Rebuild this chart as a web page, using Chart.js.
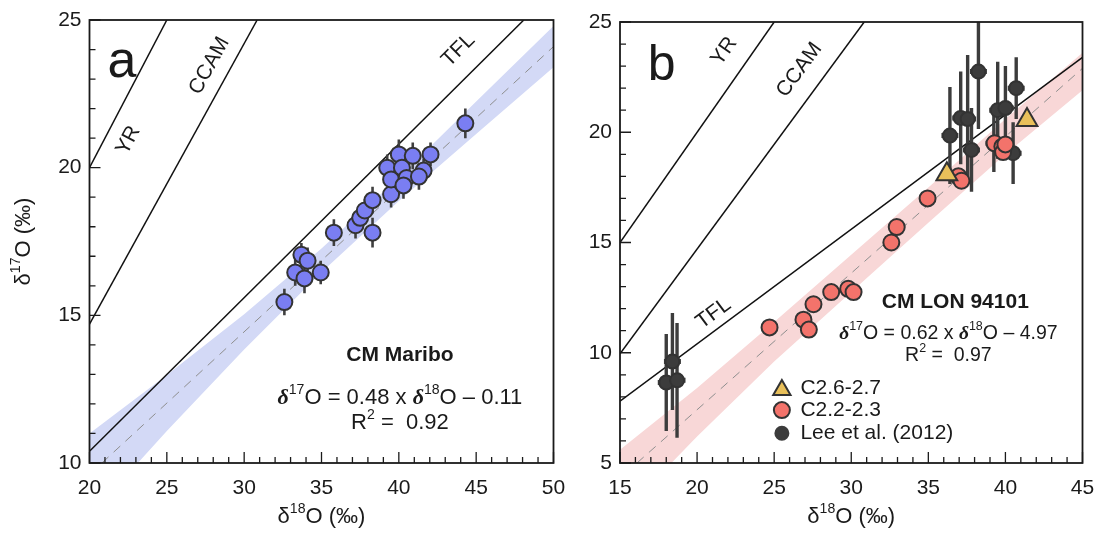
<!DOCTYPE html>
<html>
<head>
<meta charset="utf-8">
<script src="https://cdn.jsdelivr.net/npm/chart.js@4.4.1/dist/chart.umd.min.js"></script>
<style>
  html, body { margin: 0; padding: 0; background: #fff; }
  #wrap { position: relative; width: 1100px; height: 533px; }
  canvas { position: absolute; top: 0; }
</style>
</head>
<body>
<div id="wrap">
  <canvas id="chart-a" width="575" height="533" style="left:0"></canvas>
  <canvas id="chart-b" width="525" height="533" style="left:575px"></canvas>
</div>
<script>
/* Two δ17O vs δ18O panels (Maribo, LON 94101) with reference lines and fits. */

const SANS = '"Liberation Sans", Arial, sans-serif';
const SERIF = '"Liberation Serif", "Times New Roman", serif';
const INK = '#1a1a1a';

// ---- panel a : CM Maribo ----
const maribo18 = [32.6, 33.3, 33.7, 34.1, 33.9, 34.95, 35.8, 37.2, 37.5, 37.8, 38.3, 38.3,
  39.25, 39.5, 39.5, 40.0, 40.2, 40.5, 40.9, 41.6, 41.3, 42.05, 44.3, 40.3];
const maribo17 = [15.45, 16.45, 17.05, 16.85, 16.25, 16.45, 17.8, 18.05, 18.3, 18.55, 18.9, 17.8,
  20.0, 19.1, 19.6, 20.45, 20.0, 19.65, 20.4, 19.9, 19.7, 20.45, 21.5, 19.4];
const maribo17err = [0.45, 0.45, 0.4, 0.45, 0.5, 0.4, 0.45, 0.45, 0.4, 0.4, 0.45, 0.5,
  0.45, 0.45, 0.4, 0.5, 0.45, 0.45, 0.45, 0.4, 0.45, 0.4, 0.5, 0.45];

const yrA = { x: [20, 25], y: [20, 25] };
const ccamA = { x: [20, 30.84], y: [14.7, 25] };
const tflA = { x: [20, 48.08], y: [10.4, 25] };
const fitA = { x: [20.8, 50], y: [10, 24.1] };
const bandAx = [20, 25, 30, 35, 40, 45, 50];
const bandAup = [11.0, 12.98, 15.04, 17.26, 19.67, 22.24, 24.8];
const bandAlo = [8.2, 11.08, 13.84, 16.46, 18.87, 21.14, 23.4];

// ---- panel b : CM LON 94101 ----
const lon18 = [24.7, 26.9, 27.25, 27.55, 28.7, 29.8, 30.15, 32.6, 32.95, 34.95, 36.95, 37.15,
  39.3, 39.8, 39.85, 40.0];
const lon17 = [11.15, 11.5, 11.05, 12.2, 12.75, 12.9, 12.75, 15.0, 15.7, 17.0, 18.0, 17.8,
  19.5, 19.35, 19.1, 19.45];
const lon17err = [0.25, 0.2, 0.2, 0.2, 0.2, 0.25, 0.25, 0.2, 0.2, 0.2, 0.2, 0.25,
  0.2, 0.2, 0.2, 0.2];
const tri18 = [36.2, 41.4];
const tri17 = [18.1, 20.55];
const lee18 = [18.0, 18.7, 18.4, 36.4, 37.1, 37.55, 38.25, 37.8, 39.5, 40.0, 40.7, 40.5, 39.25];
const lee17 = [8.65, 8.75, 9.6, 19.85, 20.65, 20.6, 22.75, 19.2, 21.0, 21.1, 22.0, 19.05, 19.5];
const lee17err = [2.2, 2.6, 2.2, 2.2, 2.1, 2.9, 2.6, 1.9, 2.2, 1.9, 1.4, 1.4, 1.3];
const lee18err = [0.55, 0.55, 0.55, 0.55, 0.55, 0.55, 0.55, 0.55, 0.55, 0.55, 0.55, 0.55, 0.55];

const yrB = { x: [15, 25], y: [15, 25] };
const ccamB = { x: [15, 30.84], y: [9.95, 25] };
const tflB = { x: [15, 45], y: [7.8, 23.4] };
const fitB = { x: [16.1, 45], y: [5, 22.9] };
const bandBx = [15, 20, 25, 30, 35, 40, 45];
const bandBup = [5.6, 8.4, 11.4, 14.45, 17.5, 20.6, 23.6];
const bandBlo = [2.6, 6.2, 9.6, 12.75, 15.9, 19.0, 21.9];

const BLUE = '#7a7ef2';
const RED = '#f3736b';
const YELLOW = '#e9c05a';
const LEE = '#3c3c3c';
const EDGE = '#333333';

const pts = (xs, ys) => xs.map((x, i) => ({ x, y: ys[i] }));

function barsY(xs, ys, es) {
  const out = [];
  xs.forEach((x, i) => out.push({ x, y: ys[i] - es[i] }, { x, y: ys[i] + es[i] }, { x, y: null }));
  return out;
}
function barsX(xs, ys, es) {
  const out = [];
  xs.forEach((x, i) => out.push({ x: x - es[i], y: ys[i] }, { x: x + es[i], y: ys[i] }, { x, y: null }));
  return out;
}

function lineSet(ref, color, width, order, dash) {
  return {
    type: 'line', data: pts(ref.x, ref.y), borderColor: color, borderWidth: width,
    borderDash: dash || [], pointRadius: 0, fill: false, order,
  };
}
function bandSets(xs, up, lo, color) {
  return [
    { type: 'line', data: pts(xs, up), fill: '+1', backgroundColor: color,
      borderColor: 'rgba(0,0,0,0)', borderWidth: 0, pointRadius: 0, order: 30 },
    { type: 'line', data: pts(xs, lo), fill: false,
      borderColor: 'rgba(0,0,0,0)', borderWidth: 0, pointRadius: 0, order: 30 },
  ];
}
function barSet(data, color, width, order) {
  return { type: 'line', data, borderColor: color, borderWidth: width, pointRadius: 0,
    fill: false, spanGaps: false, order };
}
function markerSet(xs, ys, style, radius, fill, order) {
  return {
    type: 'scatter', data: pts(xs, ys), pointStyle: style, pointRadius: radius,
    backgroundColor: fill, borderColor: EDGE, borderWidth: 2, order,
  };
}

function fontStr(f) {
  return `${f.style || 'normal'} ${f.weight || 'normal'} ${f.size}px ${f.family || SANS}`;
}

// draws a run of text pieces (some superscript / other font) around (0,0)
function drawRich(ctx, parts, base, align) {
  const items = parts.map((p) => {
    const piece = typeof p === 'string' ? { t: p } : p;
    const f = Object.assign({}, base, piece.font || {});
    if (piece.sup) f.size = base.size * 0.64;
    ctx.font = fontStr(f);
    return { t: piece.t, f, sup: piece.sup, w: ctx.measureText(piece.t).width };
  });
  const total = items.reduce((s, it) => s + it.w, 0);
  let x = align === 'left' ? 0 : -total / 2;
  ctx.textBaseline = 'middle';
  ctx.textAlign = 'left';
  for (const it of items) {
    ctx.font = fontStr(it.f);
    ctx.fillText(it.t, x, it.sup ? -base.size * 0.36 : 0);
    x += it.w;
  }
}

// plugin factory: keeps its config in a closure so Chart.js option proxies don't touch it
function makeDeco(cfg) {
  return {
    id: 'deco',
    afterDatasetsDraw(chart) {
      const { ctx, chartArea: a, scales: { x, y } } = chart;
      ctx.save();
      ctx.strokeStyle = INK;
      ctx.lineWidth = 1.3;
      ctx.beginPath();
      for (let v = x.min; v <= x.max; v++) {
        const px = x.getPixelForValue(v);
        ctx.moveTo(px, a.bottom);
        ctx.lineTo(px, a.bottom - (v % 5 === 0 ? 11 : 6));
      }
      for (let v = y.min; v <= y.max; v++) {
        const py = y.getPixelForValue(v);
        ctx.moveTo(a.left, py);
        ctx.lineTo(a.left + (v % 5 === 0 ? 11 : 6), py);
      }
      ctx.stroke();
      ctx.lineWidth = 1.8;
      ctx.strokeRect(a.left, a.top, a.right - a.left, a.bottom - a.top);

      ctx.fillStyle = INK;
      for (const t of cfg.texts || []) {
        ctx.save();
        ctx.translate(x.getPixelForValue(t.x), y.getPixelForValue(t.y));
        if (t.along) {
          const dx = x.getPixelForValue(t.along.x[1]) - x.getPixelForValue(t.along.x[0]);
          const dy = y.getPixelForValue(t.along.y[1]) - y.getPixelForValue(t.along.y[0]);
          ctx.rotate(Math.atan2(dy, dx));
        }
        drawRich(ctx, t.parts, t.font, t.align);
        ctx.restore();
      }

      for (const item of cfg.legend || []) {
        const px = x.getPixelForValue(item.x);
        const py = y.getPixelForValue(item.y);
        ctx.beginPath();
        if (item.style === 'triangle') {
          for (let k = 0; k < 3; k++) {
            const ang = k * 2 * Math.PI / 3;
            const fx = px + Math.sin(ang) * item.r;
            const fy = py - Math.cos(ang) * item.r + item.r * 0.2;
            if (k === 0) ctx.moveTo(fx, fy); else ctx.lineTo(fx, fy);
          }
          ctx.closePath();
        } else {
          ctx.arc(px, py, item.r, 0, Math.PI * 2);
        }
        ctx.fillStyle = item.fill;
        ctx.fill();
        ctx.lineWidth = 2;
        ctx.strokeStyle = item.edge || EDGE;
        ctx.stroke();
        ctx.fillStyle = INK;
        ctx.save();
        ctx.translate(x.getPixelForValue(item.tx), py);
        drawRich(ctx, [item.text], { size: 21 }, 'left');
        ctx.restore();
      }

      // axis titles
      ctx.save();
      ctx.translate((a.left + a.right) / 2, a.bottom + 54);
      drawRich(ctx, ['δ', { t: '18', sup: true }, 'O (‰)'], { size: 22 });
      ctx.restore();
      if (cfg.yTitleX) {
        ctx.save();
        ctx.translate(cfg.yTitleX, (a.top + a.bottom) / 2);
        ctx.rotate(-Math.PI / 2);
        drawRich(ctx, ['δ', { t: '17', sup: true }, 'O (‰)'], { size: 22 });
        ctx.restore();
      }
      ctx.restore();
    },
  };
}

function axes(xmin, xmax, ymin, ymax, yWidth) {
  const tickFont = { family: SANS, size: 21 };
  return {
    x: {
      type: 'linear', min: xmin, max: xmax,
      // fixed box: the layout padding alone decides where the plot area ends
      afterFit: (s) => { s.height = 70; s.paddingLeft = 0; s.paddingRight = 0; },
      grid: { display: false, drawTicks: false }, border: { display: false },
      ticks: { stepSize: 5, padding: 13, font: tickFont, color: INK, maxRotation: 0, autoSkip: false },
    },
    y: {
      type: 'linear', min: ymin, max: ymax,
      afterFit: (s) => { s.width = yWidth; s.paddingTop = 0; s.paddingBottom = 0; },
      grid: { display: false, drawTicks: false }, border: { display: false },
      ticks: { stepSize: 5, padding: 8, font: tickFont, color: INK, autoSkip: false },
    },
  };
}

const boldDelta = { t: 'δ', font: { family: SERIF, weight: 'bold', style: 'italic' } };

const baseOptions = (padTop, padRight, scales) => ({
  responsive: false, animation: false, events: [],
  layout: { padding: { top: padTop, right: padRight, left: 0, bottom: 0 } },
  scales,
  plugins: { legend: { display: false }, tooltip: { enabled: false } },
});

new Chart(document.getElementById('chart-a'), {
  type: 'scatter',
  data: {
    datasets: [
      ...bandSets(bandAx, bandAup, bandAlo, '#d3d9f6'),
      lineSet(fitA, '#8e8e8e', 1, 25, [9, 7]),
      lineSet(yrA, '#111', 1.5, 20),
      lineSet(ccamA, '#111', 1.5, 20),
      lineSet(tflA, '#111', 1.5, 20),
      barSet(barsY(maribo18, maribo17, maribo17err), '#3f3f3f', 2.6, 12),
      markerSet(maribo18, maribo17, 'circle', 8, BLUE, 10),
    ],
  },
  options: baseOptions(20, 21.5, axes(20, 50, 10, 25, 89.5)),
  plugins: [makeDeco({
    yTitleX: 24,
    texts: [
      { parts: ['a'], x: 22.1, y: 23.55, font: { size: 52 } },
      { parts: ['YR'], x: 22.52, y: 20.93, font: { size: 21 }, along: yrA },
      { parts: ['CCAM'], x: 27.75, y: 23.45, font: { size: 21 }, along: ccamA },
      { parts: ['TFL'], x: 43.85, y: 23.98, font: { size: 21 }, along: tflA },
      { parts: ['CM Maribo'], x: 40.07, y: 13.65, font: { size: 21, weight: 'bold' } },
      { parts: [boldDelta, { t: '17', sup: true }, 'O = 0.48 x ', boldDelta, { t: '18', sup: true }, 'O – 0.11'],
        x: 40.07, y: 12.2, font: { size: 22 } },
      { parts: ['R', { t: '2', sup: true }, ' =  0.92'], x: 40.07, y: 11.35, font: { size: 22 } },
    ],
  })],
});

new Chart(document.getElementById('chart-b'), {
  type: 'scatter',
  data: {
    datasets: [
      ...bandSets(bandBx, bandBup, bandBlo, '#f8d7d7'),
      lineSet(fitB, '#8e8e8e', 1, 25, [9, 7]),
      lineSet(yrB, '#111', 1.5, 20),
      lineSet(ccamB, '#111', 1.5, 20),
      lineSet(tflB, '#111', 1.5, 20),
      barSet(barsY(lee18, lee17, lee17err), LEE, 3.4, 16),
      barSet(barsX(lee18, lee17, lee18err), LEE, 5, 16),
      markerSet(lee18, lee17, 'circle', 7, LEE, 15),
      barSet(barsY(lon18, lon17, lon17err), '#3f3f3f', 2.4, 12),
      markerSet(lon18, lon17, 'circle', 8, RED, 10),
      markerSet(tri18, tri17, 'triangle', 12, YELLOW, 8),
    ],
  },
  options: baseOptions(22, 17.5, axes(15, 45, 5, 25, 45)),
  plugins: [makeDeco({
    texts: [
      { parts: ['b'], x: 17.7, y: 22.99, font: { size: 50 } },
      { parts: ['YR'], x: 21.76, y: 23.67, font: { size: 21 }, along: yrB },
      { parts: ['CCAM'], x: 26.64, y: 22.83, font: { size: 21 }, along: ccamB },
      { parts: ['TFL'], x: 21.07, y: 11.78, font: { size: 21 }, along: tflB },
      { parts: ['CM LON 94101'], x: 36.75, y: 12.3, font: { size: 21, weight: 'bold' } },
      { parts: [boldDelta, { t: '17', sup: true }, 'O = 0.62 x ', boldDelta, { t: '18', sup: true }, 'O – 4.97'],
        x: 36.3, y: 10.85, font: { size: 19.5 } },
      { parts: ['R', { t: '2', sup: true }, ' =  0.97'], x: 36.3, y: 9.85, font: { size: 19.5 } },
    ],
    legend: [
      { style: 'triangle', fill: YELLOW, r: 10, x: 25.5, y: 8.4, tx: 26.7, text: 'C2.6-2.7' },
      { style: 'circle', fill: RED, r: 8, x: 25.5, y: 7.4, tx: 26.7, text: 'C2.2-2.3' },
      { style: 'circle', fill: LEE, edge: LEE, r: 6.5, x: 25.5, y: 6.35, tx: 26.7, text: 'Lee et al. (2012)' },
    ],
  })],
});
</script>
</body>
</html>
